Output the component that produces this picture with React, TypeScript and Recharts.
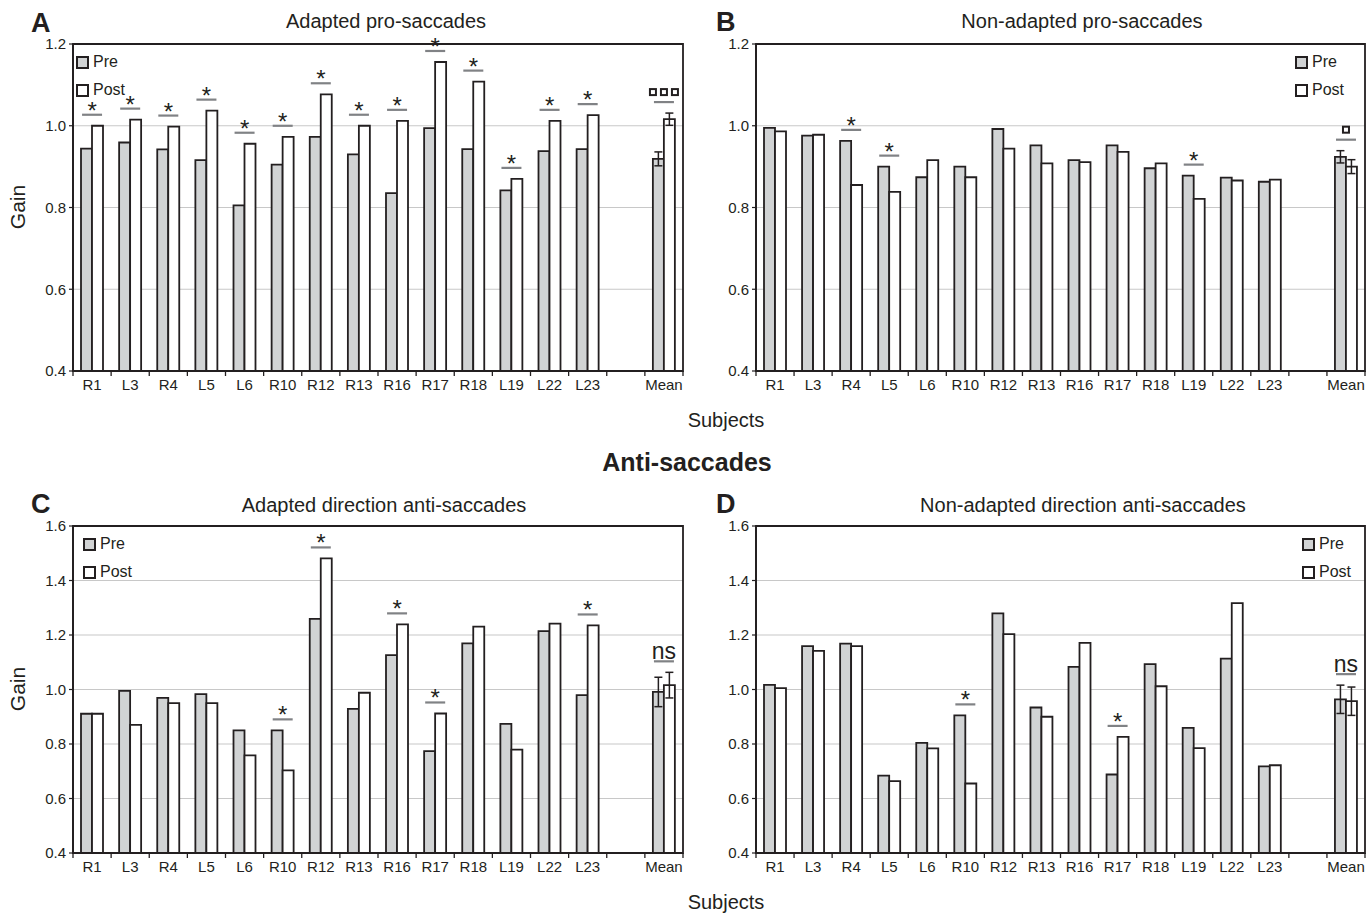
import React from "react";
import {
  ComposedChart,
  Bar,
  XAxis,
  YAxis,
  CartesianGrid,
  ErrorBar,
  Scatter,
  Legend,
  ReferenceArea,
} from "recharts";

// categories (empty slot before the mean, as in the original figure)
const subjects = ["R1", "L3", "R4", "L5", "L6", "R10", "R12", "R13", "R16", "R17", "R18", "L19", "L22", "L23", "", "Mean"];
const seriesNames = ["Pre", "Post"];

const yTicksPro = [0.4, 0.6, 0.8, 1.0, 1.2];
const yTicksAnti = [0.4, 0.6, 0.8, 1.0, 1.2, 1.4, 1.6];

// A: adapted pro-saccades
const proAdaptedPre = [0.944, 0.959, 0.942, 0.916, 0.805, 0.905, 0.973, 0.93, 0.835, 0.994, 0.943, 0.842, 0.938, 0.943, null, 0.919];
const proAdaptedPost = [1.0, 1.015, 0.998, 1.037, 0.956, 0.973, 1.077, 1.0, 1.012, 1.156, 1.108, 0.87, 1.012, 1.026, null, 1.016];
const proAdaptedMeanErr = [0.017, 0.015];
const proAdaptedSig = ["*", "*", "*", "*", "*", "*", "*", "*", "*", "*", "*", "*", "*", "*", "", "□□□"];

// B: non-adapted pro-saccades
const proNonPre = [0.995, 0.976, 0.963, 0.9, 0.874, 0.9, 0.992, 0.952, 0.916, 0.952, 0.896, 0.878, 0.873, 0.863, null, 0.924];
const proNonPost = [0.986, 0.978, 0.855, 0.838, 0.916, 0.874, 0.944, 0.908, 0.911, 0.936, 0.908, 0.821, 0.866, 0.868, null, 0.9];
const proNonMeanErr = [0.015, 0.017];
const proNonSig = ["", "", "*", "*", "", "", "", "", "", "", "", "*", "", "", "", "□"];

// C: adapted direction anti-saccades
const antiAdaptedPre = [0.911, 0.995, 0.969, 0.983, 0.85, 0.85, 1.259, 0.929, 1.126, 0.774, 1.169, 0.874, 1.214, 0.979, null, 0.991];
const antiAdaptedPost = [0.911, 0.87, 0.95, 0.95, 0.758, 0.703, 1.481, 0.988, 1.239, 0.912, 1.231, 0.779, 1.242, 1.235, null, 1.016];
const antiAdaptedMeanErr = [0.054, 0.047];
const antiAdaptedSig = ["", "", "", "", "", "*", "*", "", "*", "*", "", "", "", "*", "", "ns"];

// D: non-adapted direction anti-saccades
const antiNonPre = [1.017, 1.159, 1.168, 0.684, 0.804, 0.905, 1.279, 0.934, 1.083, 0.688, 1.093, 0.859, 1.113, 0.718, null, 0.964];
const antiNonPost = [1.005, 1.142, 1.159, 0.664, 0.784, 0.655, 1.203, 0.9, 1.171, 0.826, 1.012, 0.785, 1.317, 0.722, null, 0.957];
const antiNonMeanErr = [0.052, 0.052];
const antiNonSig = ["", "", "", "", "", "*", "", "", "", "*", "", "", "", "", "", "ns"];

const INK = "#231f20";
const PRE_FILL = "#d1d3d4";
const GRID = "#c8c8c8";

function buildRows(pre: (number | null)[], post: (number | null)[], meanErr: number[], sig: string[]) {
  return subjects.map((name, i) => {
    const isMean = name === "Mean";
    const preErr = isMean ? meanErr[0] : null;
    const postErr = isMean ? meanErr[1] : null;
    const p = pre[i];
    const q = post[i];
    const top = p == null || q == null ? null : Math.max(p + (preErr ?? 0), q + (postErr ?? 0));
    return { name, pre: p, post: q, preErr, postErr, sig: sig[i], top };
  });
}

function SigMark(props: any) {
  const { cx, cy, payload } = props;
  const sig: string = payload?.sig ?? "";
  if (!sig || !Number.isFinite(cx) || !Number.isFinite(cy)) return <g />;
  const lineY = cy - 11;
  let mark: React.ReactNode;
  if (sig.startsWith("□")) {
    const n = Array.from(sig).length;
    const size = 8;
    const gap = 3;
    const total = n * size + (n - 1) * gap;
    mark = (
      <g>
        {Array.from(sig).map((_, i) => (
          <rect
            key={i}
            x={cx - total / 2 + i * (size + gap) + 1}
            y={lineY - 13}
            width={size - 2}
            height={size - 2}
            fill="#fff"
            stroke={INK}
            strokeWidth={2}
          />
        ))}
      </g>
    );
  } else if (sig === "ns") {
    mark = (
      <text x={cx} y={lineY - 2} textAnchor="middle" fontSize={23} fill={INK}>
        ns
      </text>
    );
  } else {
    mark = (
      <text x={cx} y={lineY + 4} textAnchor="middle" fontSize={24} fill={INK}>
        {sig}
      </text>
    );
  }
  return (
    <g>
      <line x1={cx - 10} x2={cx + 10} y1={lineY} y2={lineY} stroke="#808285" strokeWidth={2.2} />
      {mark}
    </g>
  );
}

// category label plus Excel-style tick marks on the category boundaries
function SubjectTick(props: any) {
  const { x, y, payload, index, visibleTicksCount } = props;
  const half = payload?.offset ?? 0;
  const isLast = index === (visibleTicksCount ?? subjects.length) - 1;
  return (
    <g>
      <line x1={x - half} x2={x - half} y1={y} y2={y + 5} stroke={INK} strokeWidth={1.3} />
      {isLast && <line x1={x + half} x2={x + half} y1={y} y2={y + 5} stroke={INK} strokeWidth={1.3} />}
      <text x={x} y={y + 19} textAnchor="middle" fontSize={15} fill={INK}>
        {payload?.value}
      </text>
    </g>
  );
}

function PrePostLegend({ payload }: any) {
  const items = (payload || [])
    .filter((item: any) => seriesNames.includes(item.value))
    .sort((a: any, b: any) => seriesNames.indexOf(a.value) - seriesNames.indexOf(b.value));
  return (
    <div>
      {items.map((item: any) => (
        <div
          key={item.value}
          style={{
            display: "flex",
            alignItems: "center",
            height: 28,
            fontSize: 16,
            lineHeight: "18px",
            color: INK,
            whiteSpace: "nowrap",
          }}
        >
          <span
            style={{
              display: "inline-block",
              width: 9,
              height: 9,
              border: `2px solid ${INK}`,
              background: item.color,
              marginRight: 4,
            }}
          />
          {item.value}
        </div>
      ))}
    </div>
  );
}

function Panel({
  rows,
  yTicks,
  left,
  top,
  width,
  marginLeft,
  marginRight,
  legendLeft,
}: {
  rows: any[];
  yTicks: number[];
  left: number;
  top: number;
  width: number;
  marginLeft: number;
  marginRight: number;
  legendLeft: number;
}) {
  const yMin = yTicks[0];
  const yMax = yTicks[yTicks.length - 1];
  return (
    <div style={{ position: "absolute", left, top }}>
      <ComposedChart
        width={width}
        height={400}
        data={rows}
        margin={{ top: 44, right: marginRight, bottom: 4, left: marginLeft }}
        barGap={0}
        barCategoryGap={8}
      >
        <CartesianGrid vertical={false} stroke={GRID} strokeWidth={1.2} xAxisId="cat" yAxisId="left" />
        <XAxis
          xAxisId="cat"
          dataKey="name"
          interval={0}
          axisLine={{ stroke: INK, strokeWidth: 1.8 }}
          tickLine={false}
          tickSize={0}
          tickMargin={0}
          height={25}
          tick={<SubjectTick />}
        />
        <YAxis
          yAxisId="left"
          domain={[yMin, yMax]}
          ticks={yTicks}
          tickFormatter={(v: number) => v.toFixed(1)}
          width={40}
          tickSize={4}
          tickMargin={3}
          axisLine={{ stroke: INK, strokeWidth: 1.8 }}
          tickLine={{ stroke: INK, strokeWidth: 1.2 }}
          tick={{ fontSize: 15, fill: INK }}
        />
        <ReferenceArea
          xAxisId="cat"
          yAxisId="left"
          y1={yMin}
          y2={yMax}
          fill="none"
          stroke={INK}
          strokeWidth={1.8}
        />
        <Legend
          content={<PrePostLegend />}
          layout="horizontal"
          verticalAlign="middle"
          align="center"
          wrapperStyle={{ top: 48, left: legendLeft, width: "auto" }}
        />
        <Bar
          xAxisId="cat"
          yAxisId="left"
          dataKey="pre"
          name="Pre"
          fill={PRE_FILL}
          stroke={INK}
          strokeWidth={1.8}
          isAnimationActive={false}
        >
          <ErrorBar dataKey="preErr" width={4} stroke={INK} strokeWidth={1.5} direction="y" />
        </Bar>
        <Bar
          xAxisId="cat"
          yAxisId="left"
          dataKey="post"
          name="Post"
          fill="#ffffff"
          stroke={INK}
          strokeWidth={1.8}
          isAnimationActive={false}
        >
          <ErrorBar dataKey="postErr" width={4} stroke={INK} strokeWidth={1.5} direction="y" />
        </Bar>
        <Scatter
          xAxisId="cat"
          yAxisId="left"
          dataKey="top"
          name="sig"
          shape={SigMark}
          legendType="none"
          isAnimationActive={false}
        />
      </ComposedChart>
    </div>
  );
}

export default function App() {
  const font = "'Liberation Sans', Arial, sans-serif";
  return (
    <div
      style={{
        position: "absolute",
        left: 0,
        top: 0,
        width: 1368,
        height: 914,
        background: "#fff",
        fontFamily: font,
        overflow: "hidden",
      }}
    >
      <Panel
        rows={buildRows(proAdaptedPre, proAdaptedPost, proAdaptedMeanErr, proAdaptedSig)}
        yTicks={yTicksPro}
        left={0}
        top={0}
        width={690}
        marginLeft={33}
        marginRight={7}
        legendLeft={76}
      />
      <Panel
        rows={buildRows(proNonPre, proNonPost, proNonMeanErr, proNonSig)}
        yTicks={yTicksPro}
        left={690}
        top={0}
        width={678}
        marginLeft={26}
        marginRight={3}
        legendLeft={605}
      />
      <Panel
        rows={buildRows(antiAdaptedPre, antiAdaptedPost, antiAdaptedMeanErr, antiAdaptedSig)}
        yTicks={yTicksAnti}
        left={0}
        top={482}
        width={690}
        marginLeft={33}
        marginRight={7}
        legendLeft={83}
      />
      <Panel
        rows={buildRows(antiNonPre, antiNonPost, antiNonMeanErr, antiNonSig)}
        yTicks={yTicksAnti}
        left={690}
        top={482}
        width={678}
        marginLeft={26}
        marginRight={3}
        legendLeft={612}
      />
      <svg
        width={1368}
        height={914}
        style={{ position: "absolute", left: 0, top: 0, pointerEvents: "none" }}
        fontFamily={font}
        fill={INK}
      >
        <text x={31} y={32} fontSize={27} fontWeight="bold">A</text>
        <text x={716} y={31} fontSize={27} fontWeight="bold">B</text>
        <text x={31} y={513} fontSize={27} fontWeight="bold">C</text>
        <text x={716} y={513} fontSize={27} fontWeight="bold">D</text>
        <text x={386} y={28} fontSize={20} textAnchor="middle">Adapted pro-saccades</text>
        <text x={1082} y={28} fontSize={20} textAnchor="middle">Non-adapted pro-saccades</text>
        <text x={384} y={512} fontSize={20} textAnchor="middle">Adapted direction anti-saccades</text>
        <text x={1083} y={512} fontSize={20} textAnchor="middle">Non-adapted direction anti-saccades</text>
        <text x={25} y={207} fontSize={21} textAnchor="middle" transform="rotate(-90 25 207)">Gain</text>
        <text x={25} y={689} fontSize={21} textAnchor="middle" transform="rotate(-90 25 689)">Gain</text>
        <text x={726} y={427} fontSize={20} textAnchor="middle">Subjects</text>
        <text x={687} y={471} fontSize={25} fontWeight="bold" textAnchor="middle">Anti-saccades</text>
        <text x={726} y={909} fontSize={20} textAnchor="middle">Subjects</text>
      </svg>
    </div>
  );
}
